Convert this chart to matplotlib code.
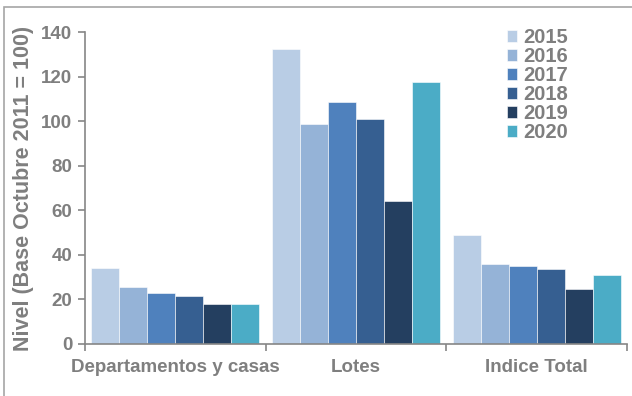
import numpy as np
import matplotlib.pyplot as plt
from matplotlib.patches import Rectangle

plt.rcParams['font.family'] = ['Liberation Sans', 'DejaVu Sans']
plt.rcParams['font.weight'] = 'bold'

# Data
categories = ['Departamentos y casas', 'Lotes', 'Indice Total']
years = ['2015', '2016', '2017', '2018', '2019', '2020']
v2015 = [34.0, 132.5, 49.0]
v2016 = [25.5, 98.5, 36.0]
v2017 = [23.0, 108.5, 35.0]
v2018 = [21.5, 101.0, 33.5]
v2019 = [18.0, 64.0, 24.8]
v2020 = [18.0, 117.5, 31.0]
series = [v2015, v2016, v2017, v2018, v2019, v2020]
colors = ['#B9CDE5', '#95B3D7', '#4F81BD', '#365F91', '#243F60', '#4BACC6']

gray = '#7F7F7F'
axis_gray = '#868686'

fig = plt.figure(figsize=(6.32, 3.96), dpi=100)
ax = fig.add_axes([85/632, 1-344/396, (627-85)/632, (344-32)/396])

# outer frame of the chart area
fig.patches.append(Rectangle((4/632, -0.01), 1.0, 1 - 7/396 + 0.01,
                             transform=fig.transFigure, fill=False,
                             edgecolor='#A6A6A6', linewidth=1.2))

x = np.arange(len(categories))
w = 0.155
for i, (vals, yr, c) in enumerate(zip(series, years, colors)):
    ax.bar(x + (i - 2.5) * w, vals, width=w, color=c, label=yr,
           edgecolor='white', linewidth=0.4)

ax.set_xlim(-0.5, 2.5)
ax.set_ylim(0, 140)
ax.set_yticks(np.arange(0, 141, 20))
ax.set_xticks([-0.5, 0.5, 1.5, 2.5])
ax.set_xticklabels([])
ax.set_xticks(x, minor=True)
ax.set_xticklabels(categories, minor=True)
ax.tick_params(axis='x', which='minor', length=0, pad=11, labelsize=13.5, labelcolor=gray)
ax.tick_params(axis='x', which='major', length=5, color=axis_gray, width=1.2)
ax.tick_params(axis='y', length=5, color=axis_gray, width=1.2, labelsize=13.5,
               labelcolor=gray, pad=4)

for s in ['top', 'right']:
    ax.spines[s].set_visible(False)
for s in ['left', 'bottom']:
    ax.spines[s].set_color(axis_gray)
    ax.spines[s].set_linewidth(1.2)

ax.set_ylabel('Nivel (Base Octubre 2011 = 100)', fontsize=15.5, color=gray,
              fontweight='bold', labelpad=5)

leg = ax.legend(loc='upper left', bbox_to_anchor=(497/632, 1-18/396),
                bbox_transform=fig.transFigure, frameon=False, fontsize=14.5,
                handlelength=0.5, handleheight=0.5, handletextpad=0.3,
                labelspacing=0.0, borderpad=0)
for t in leg.get_texts():
    t.set_color(gray)

fig.savefig('out.png', dpi=100)
